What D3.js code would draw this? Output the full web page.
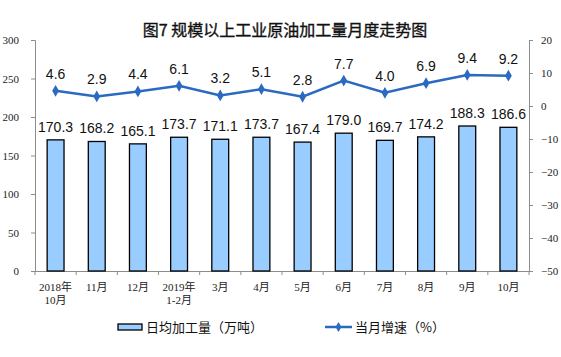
<!DOCTYPE html>
<html><head><meta charset="utf-8">
<script src="https://cdn.jsdelivr.net/npm/d3@7"></script>
<style>body{margin:0;background:#fff}</style>
</head><body>
<svg id="c" width="561" height="357"></svg>
<script>
const categories = [["2018年","10月"],["11月"],["12月"],["2019年","1-2月"],["3月"],["4月"],["5月"],["6月"],["7月"],["8月"],["9月"],["10月"]];
const output = [170.3,168.2,165.1,173.7,171.1,173.7,167.4,179.0,169.7,174.2,188.3,186.6];
const growth = [4.6,2.9,4.4,6.1,3.2,5.1,2.8,7.7,4.0,6.9,9.4,9.2];
const leftTicks = [0,50,100,150,200,250,300];
const rightTicks = [-50,-40,-30,-20,-10,0,10,20];
const title = "图7 规模以上工业原油加工量月度走势图";
const legendBar = "日均加工量（万吨）";
const legendLine = "当月增速（%）";

const svg = d3.select("#c");
const L = 35, R = 529, T = 40, B = 271;
const x = d3.scaleBand().domain(d3.range(categories.length)).range([L, R]).paddingInner(0.59).paddingOuter(0.295);
const xs = d3.scaleBand().domain(d3.range(categories.length)).range([L, R]);
const yL = d3.scaleLinear().domain([0,300]).range([B, T]);
const yR = d3.scaleLinear().domain([-50,20]).range([B, T]);
const serif = "'Liberation Serif','Times New Roman','Noto Sans CJK SC',serif";
const sans = "'Liberation Sans',Arial,'Noto Sans CJK SC',sans-serif";
const cjk = "'Noto Sans CJK SC',sans-serif";
const axisColor = "#8c8c8c";

svg.append("text").attr("x", 285).attr("y", 36).attr("text-anchor","middle")
  .attr("font-family",cjk).attr("font-size",16).attr("fill","#111")
  .attr("stroke","#111").attr("stroke-width",0.35).text(title);

// left axis
const gl = svg.append("g").attr("transform",`translate(${L},0)`)
  .call(d3.axisLeft(yL).tickValues(leftTicks).tickSize(4).tickPadding(12));
gl.select(".domain").attr("stroke",axisColor);
gl.selectAll(".tick line").attr("stroke",axisColor);
gl.selectAll("text").attr("font-family",serif).attr("font-size",11).attr("fill","#222");

const gr = svg.append("g").attr("transform",`translate(${R},0)`)
  .call(d3.axisRight(yR).tickValues(rightTicks).tickSize(4).tickPadding(8));
gr.select(".domain").attr("stroke",axisColor);
gr.selectAll(".tick line").attr("stroke",axisColor);
gr.selectAll("text").attr("font-family",serif).attr("font-size",11).attr("fill","#222");

// bottom axis
svg.append("line").attr("x1",L).attr("x2",R).attr("y1",B+0.5).attr("y2",B+0.5).attr("stroke",axisColor);
svg.selectAll(".xt").data(d3.range(categories.length+1)).enter().append("line")
  .attr("x1", i => L + i*xs.step()).attr("x2", i => L + i*xs.step())
  .attr("y1", B).attr("y2", B+4).attr("stroke",axisColor);

// category labels
const cl = svg.selectAll(".cl").data(categories).enter().append("text")
  .attr("text-anchor","middle").attr("font-family",serif).attr("font-size",11).attr("fill","#222")
  .attr("transform",(d,i)=>`translate(${x(i)+x.bandwidth()/2},${B+20})`);
cl.selectAll("tspan").data(d=>d).enter().append("tspan").attr("x",0).attr("dy",(d,i)=>i?13:0).text(d=>d);

// bars
svg.selectAll(".bar").data(output).enter().append("rect")
  .attr("x",(d,i)=>x(i)).attr("width",x.bandwidth())
  .attr("y",d=>yL(d)).attr("height",d=>B-yL(d))
  .attr("fill","#99ccff").attr("stroke","#000").attr("stroke-width",1.3);
svg.selectAll(".bl").data(output).enter().append("text")
  .attr("x",(d,i)=>x(i)+x.bandwidth()/2).attr("y",d=>yL(d)-8)
  .attr("text-anchor","middle").attr("font-family",sans).attr("font-size",14).attr("fill","#111")
  .text(d=>d.toFixed(1));

// line
const lineColor = "#2a6ac0";
const cx = i => x(i)+x.bandwidth()/2;
svg.append("path").datum(growth)
  .attr("d", d3.line().x((d,i)=>cx(i)).y(d=>yR(d)))
  .attr("fill","none").attr("stroke",lineColor).attr("stroke-width",2.5);
svg.selectAll(".mk").data(growth).enter().append("path")
  .attr("d", d3.symbol().type(d3.symbolDiamond).size(40))
  .attr("transform",(d,i)=>`translate(${cx(i)},${yR(d)})`).attr("fill",lineColor);
svg.selectAll(".ll").data(growth).enter().append("text")
  .attr("x",(d,i)=>cx(i)).attr("y",d=>yR(d)-12)
  .attr("text-anchor","middle").attr("font-family",sans).attr("font-size",14).attr("fill","#111")
  .text(d=>d.toFixed(1));

// legend
const ly = 327;
svg.append("rect").attr("x",118).attr("y",ly-3).attr("width",24).attr("height",6)
  .attr("fill","#99ccff").attr("stroke","#000").attr("stroke-width",1.3);
svg.append("text").attr("x",146).attr("y",ly+5).attr("font-family",cjk).attr("font-size",13).attr("fill","#111").text(legendBar);
svg.append("line").attr("x1",325).attr("x2",352).attr("y1",ly).attr("y2",ly).attr("stroke",lineColor).attr("stroke-width",2.5);
svg.append("path").attr("d",d3.symbol().type(d3.symbolDiamond).size(30)).attr("transform",`translate(338.5,${ly})`).attr("fill",lineColor);
svg.append("text").attr("x",355).attr("y",ly+5).attr("font-family",cjk).attr("font-size",13).attr("fill","#111").text(legendLine);
</script>
</body></html>
